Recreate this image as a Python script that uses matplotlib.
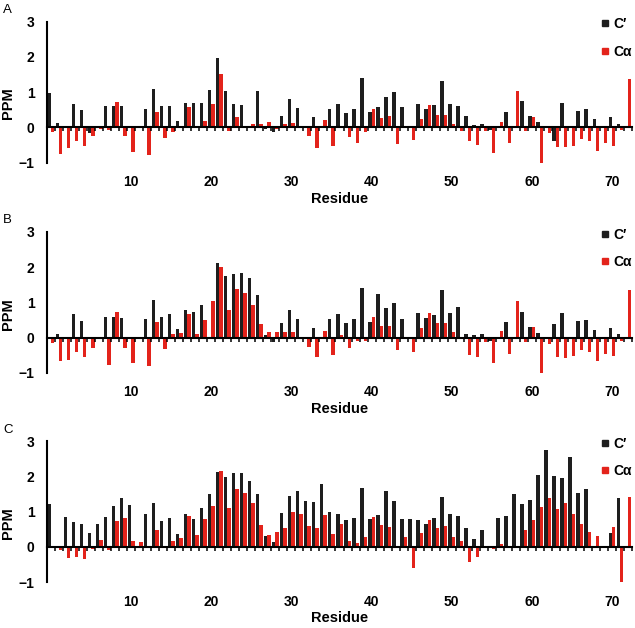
import numpy as np
import matplotlib
matplotlib.use("Agg")
import matplotlib.pyplot as plt
from matplotlib.lines import Line2D

plt.rcParams['font.family'] = ['Liberation Sans', 'DejaVu Sans']

residues = np.arange(0, 73)
x_ticks = [10, 20, 30, 40, 50, 60, 70]

# panel A
a_cprime = [0.97, 0.12, 0, 0.67, 0.49, -0.15, 0, 0.61, 0.61, 0.59,
            0, 0, 0.52, 1.1, 0.59, 0.59, 0.18, 0.69, 0.69, 0.69,
            1.05, 1.97, 1.02, 0.67, 0.64, 0, 1.02, -0.06, -0.14, 0.33,
            0.8, 0.55, 0, 0.3, 0, 0.51, 0.66, 0.41, 0.51, 1.4,
            0.43, 0.58, 0.85, 1.0, 0.58, 0, 0.67, 0.52, 0.64, 1.32,
            0.66, 0.61, 0.33, 0.06, 0.1, -0.09, 0, 0.43, 0, 0.74,
            0.32, 0.15, 0, -0.4, 0.69, 0, 0.47, 0.52, 0.24, 0,
            0.29, 0.1, 0]
a_calpha = [-0.12, -0.75, -0.6, -0.38, -0.52, -0.25, -0.05, -0.08, 0.73, -0.24,
            -0.69, 0, -0.78, 0.44, -0.3, -0.13, 0, 0.58, 0, 0.17,
            0.66, 1.52, -0.1, 0.28, 0, 0.1, 0.1, 0.14, -0.05, 0.08,
            0.11, 0, -0.26, -0.6, 0.21, -0.52, 0.05, -0.28, -0.45, -0.14,
            0.51, 0.25, 0.33, -0.47, 0, -0.35, 0.24, 0.64, 0.36, 0.36,
            0.1, -0.1, -0.4, -0.49, -0.11, -0.73, 0.14, -0.46, 1.04, -0.11,
            0.29, -1.03, -0.16, -0.57, -0.57, -0.52, -0.33, -0.4, -0.66, -0.44,
            -0.54, -0.09, 1.37]

# panel B
b_cprime = [0, 0.11, 0, 0.66, 0.47, 0, 0, 0.59, 0.59, 0.57,
            0, 0, 0.52, 1.07, 0.6, 0.66, 0.24, 0.79, 0.74, 0.93,
            0, 2.12, 1.76, 1.81, 1.84, 1.69, 1.22, 0.09, -0.12, 0.42,
            0.8, 0.52, 0, 0.28, 0, 0.53, 0.68, 0.42, 0.53, 1.42,
            0.46, 1.23, 0.83, 0.99, 0.53, 0, 0.71, 0.55, 0.65, 1.35,
            0.71, 0.88, 0.11, 0.07, 0.11, -0.1, 0, 0.44, 0, 0.74,
            0.31, 0.14, 0, 0.4, 0.69, 0, 0.47, 0.51, 0.23, 0,
            0.29, 0.11, 0]
b_calpha = [-0.16, -0.66, -0.64, -0.4, -0.54, -0.28, -0.05, -0.76, 0.72, -0.28,
            -0.71, 0, -0.81, 0.44, -0.33, 0.1, 0.13, 0.66, 0.1, 0.49,
            1.03, 2.02, 0.78, 1.39, 1.27, 0.93, 0.38, 0.16, 0.16, 0.15,
            0.16, 0.02, -0.27, -0.55, 0.19, -0.5, 0.08, -0.28, -0.1, -0.1,
            0.6, 0.34, 0.34, -0.36, 0, -0.4, 0.27, 0.7, 0.41, 0.42,
            0.17, -0.05, -0.5, -0.55, -0.12, -0.72, 0.18, -0.45, 1.05, -0.11,
            0.3, -1.05, -0.17, -0.55, -0.58, -0.53, -0.36, -0.41, -0.65, -0.45,
            -0.53, -0.1, 1.36]

# panel C
c_cprime = [1.2, 0, 0.85, 0.69, 0.65, 0.38, 0.66, 0.85, 1.16, 1.37,
            1.18, 0, 0.93, 1.23, 0.74, 0.83, 0.36, 0.93, 0.8, 1.11,
            1.51, 2.13, 1.98, 2.08, 2.08, 1.87, 1.51, 0.3, 0.14, 0.97,
            1.43, 1.58, 1.29, 1.27, 1.79, 0.99, 0.93, 0.75, 0.82, 1.68,
            0.8, 0.91, 1.59, 1.3, 0.8, 0.8, 0.75, 0.65, 0.82, 1.42,
            0.94, 0.87, 0.52, 0.23, 0.49, 0, 0.81, 0.88, 1.51, 1.2,
            1.32, 2.03, 2.75, 2.02, 1.95, 2.55, 1.54, 1.65, 0, 0,
            0.4, 1.37, 0]
c_calpha = [0, -0.08, -0.31, -0.28, -0.35, -0.05, 0.19, -0.08, 0.74, 0.82,
            0.17, 0.14, -0.02, 0.49, -0.02, 0.17, 0.25, 0.88, 0.33, 0.79,
            1.16, 2.15, 1.1, 1.63, 1.53, 1.23, 0.61, 0.33, 0.43, 0.53,
            1.0, 0.92, 0.6, 0.54, 0.91, 0.37, 0.65, 0.16, 0.11, 0.27,
            0.85, 0.61, 0.57, 0, 0.29, -0.61, 0.38, 0.75, 0.52, 0.59,
            0.28, 0.17, -0.42, -0.3, 0.02, -0.05, 0.09, 0, 0, 0.47,
            0.75, 1.13, 1.37, 1.07, 1.25, 0.94, 0.66, 0.41, 0.32, 0,
            0.55, -1.04, 1.42]

panels = [("A", a_cprime, a_calpha),
          ("B", b_cprime, b_calpha),
          ("C", c_cprime, c_calpha)]

black = "#1e1e1e"
red = "#e3231b"
w = 0.43

fig = plt.figure(figsize=(6.35, 6.28), dpi=100)
bottoms = [0.7412, 0.4061, 0.0732]
letter_y = [0.984, 0.650, 0.316]

for (letter, cp, ca), b, ly in zip(panels, bottoms, letter_y):
    ax = fig.add_axes([0.074, b, 0.9213, 0.2245])
    ax.bar(residues - w / 2, cp, width=w, color=black, linewidth=0)
    ax.bar(residues + w / 2, ca, width=w, color=red, linewidth=0)

    ax.set_xlim(-0.5, 72.5)
    ax.set_ylim(-1, 3)
    ax.set_yticks([-1, 0, 1, 2, 3])
    ax.tick_params(axis='y', length=0, pad=9, labelsize=10)
    for t in ax.get_yticklabels():
        t.set_fontweight('bold')
    ax.set_ylabel("PPM", fontsize=10.5, fontweight='bold')
    ax.yaxis.set_label_coords(-0.055, 0.42)

    for s in ['top', 'right']:
        ax.spines[s].set_visible(False)
    ax.spines['left'].set_linewidth(1.5)
    ax.spines['bottom'].set_position(('data', 0))
    ax.spines['bottom'].set_linewidth(1.5)
    ax.set_xticks([])
    ax.set_xticks(np.arange(-0.5, 73, 1), minor=True)
    ax.tick_params(axis='x', which='minor', direction='out', length=3, width=1.1)

    sec = ax.secondary_xaxis('bottom')
    sec.set_xticks(x_ticks)
    sec.tick_params(length=0, pad=9, labelsize=10)
    for t in sec.get_xticklabels():
        t.set_fontweight('bold')
    sec.spines['bottom'].set_visible(False)
    sec.set_xlabel("Residue", fontsize=10.5, fontweight='bold', labelpad=2)

    handles = [Line2D([], [], marker='s', linestyle='none', color=black, markersize=4.5),
               Line2D([], [], marker='s', linestyle='none', color=red, markersize=4.5)]
    leg = ax.legend(handles, ["C\u2032", "C\u03b1"], loc='upper right',
                    bbox_to_anchor=(1.0, 1.03), frameon=False, handlelength=0.6,
                    handletextpad=0.3, labelspacing=0.95, borderpad=0, borderaxespad=0,
                    prop={'size': 10, 'weight': 'bold'})

    fig.text(0.005, ly, letter, fontsize=9.5, va='center', ha='left')

fig.savefig("out.png", dpi=100)
